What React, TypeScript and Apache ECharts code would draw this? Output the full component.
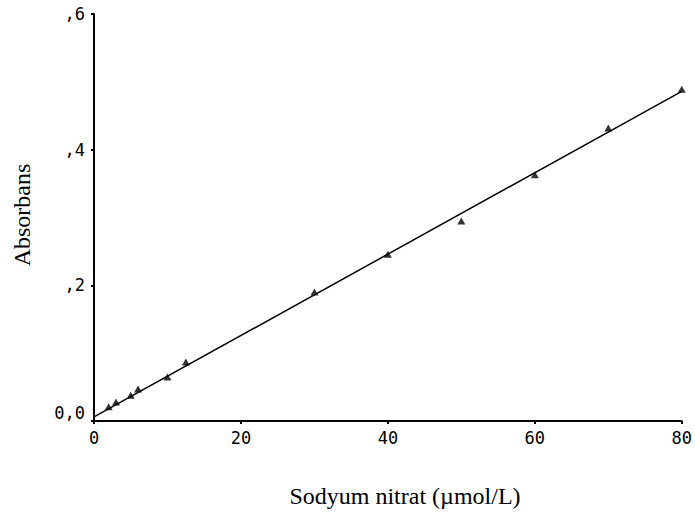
import React, { useEffect, useRef } from "react";
import * as echarts from "echarts";

const concentrations = [2, 3, 5, 6, 10, 12.5, 30, 40, 50, 60, 70, 80];
const absorbance = [0.021, 0.028, 0.038, 0.047, 0.065, 0.087, 0.19, 0.246, 0.295, 0.363, 0.432, 0.489];
const fitX = [0, 80];
const fitY = [0.006, 0.486];
const xTitle = "Sodyum nitrat (µmol/L)";
const yTitle = "Absorbans";

function yLabel(v: number): string {
  if (Math.abs(v) < 1e-9) return "{z|0,0}";
  return "," + String(Math.round(v * 10));
}

export default function App() {
  const ref = useRef<HTMLDivElement>(null);
  useEffect(() => {
    if (!ref.current) return;
    const chart = echarts.init(ref.current, null, { renderer: "svg" });
    const axisLine = { show: true, lineStyle: { color: "#000", width: 2 } };
    chart.setOption({
      animation: false,
      backgroundColor: "#fff",
      grid: { left: 94, right: 10, top: 14, bottom: 94, containLabel: false },
      xAxis: {
        type: "value",
        min: 0,
        max: 80,
        interval: 20,
        axisLine,
        axisTick: { show: true, length: 3, lineStyle: { color: "#000", width: 2 } },
        splitLine: { show: false },
        axisLabel: {
          color: "#000",
          fontFamily: "DejaVu Sans Mono",
          fontSize: 17,
          margin: 8,
        },
      },
      yAxis: {
        type: "value",
        min: 0,
        max: 0.6,
        interval: 0.2,
        axisLine,
        axisTick: { show: true, length: 3, lineStyle: { color: "#000", width: 2 } },
        splitLine: { show: false },
        axisLabel: {
          color: "#000",
          fontFamily: "DejaVu Sans Mono",
          fontSize: 17,
          margin: 9,
          formatter: (v: number) => yLabel(v),
          rich: {
            z: {
              color: "#000",
              fontFamily: "DejaVu Sans Mono",
              fontSize: 17,
              padding: [0, 0, 16, 0],
            },
          },
        },
      },
      series: [
        {
          type: "line",
          data: fitX.map((x, i) => [x, fitY[i]]),
          showSymbol: false,
          symbol: "none",
          lineStyle: { color: "#000", width: 1.5 },
          z: 2,
        },
        {
          type: "scatter",
          data: concentrations.map((x, i) => [x, absorbance[i]]),
          symbol: "triangle",
          symbolSize: [8, 7],
          itemStyle: { color: "#000" },
          z: 3,
        },
      ],
      graphic: [
        {
          type: "text",
          x: 405,
          y: 496,
          style: {
            text: xTitle,
            fontFamily: "Liberation Serif",
            fontSize: 24,
            fill: "#000",
            align: "center",
            verticalAlign: "middle",
          },
        },
        {
          type: "text",
          x: 22,
          y: 215,
          rotation: Math.PI / 2,
          style: {
            text: yTitle,
            fontFamily: "Liberation Serif",
            fontSize: 24,
            fill: "#000",
            align: "center",
            verticalAlign: "middle",
          },
        },
      ],
    });
    return () => chart.dispose();
  }, []);
  return (
    <div
      ref={ref}
      style={{ position: "fixed", left: 0, top: 0, width: 695, height: 515, background: "#fff" }}
    />
  );
}
